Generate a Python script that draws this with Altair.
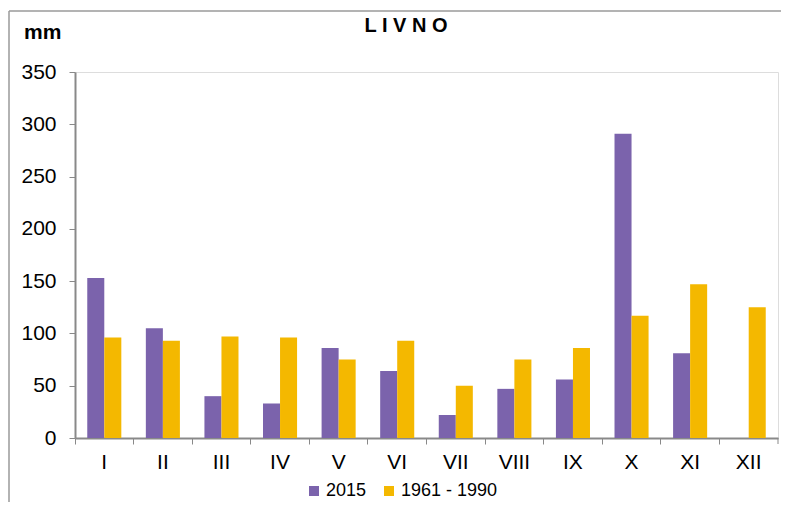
import altair as alt
import pandas as pd

months = ["I", "II", "III", "IV", "V", "VI", "VII", "VIII", "IX", "X", "XI", "XII"]
series_names = ["2015", "1961 - 1990"]
vals_2015 = [153, 105, 40, 33, 86, 64, 22, 47, 56, 291, 81, None]
vals_norm = [96, 93, 97, 96, 75, 93, 50, 75, 86, 117, 147, 125]
y_ticks = [0, 50, 100, 150, 200, 250, 300, 350]
title_text = "L I V N O"
unit_text = "mm"
colors = ["#7B63AC", "#F4B800"]

rows = []
for m, a, b in zip(months, vals_2015, vals_norm):
    rows.append({"month": m, "series": series_names[0], "value": a})
    rows.append({"month": m, "series": series_names[1], "value": b})
df = pd.DataFrame(rows)
df = df.dropna()

FONT = "Liberation Sans"
W, H = 703, 366

bars = alt.Chart(df).mark_bar().encode(
    x=alt.X("month:N", sort=months,
            scale=alt.Scale(paddingInner=0, paddingOuter=0),
            axis=alt.Axis(title=None, labelAngle=0, labelFontSize=21, labelFont=FONT,
                          labelColor="#000000", bandPosition=0, tickSize=6,
                          tickColor="#898989", domainColor="#898989", domainWidth=2,
                          labelPadding=7)),
    xOffset=alt.XOffset("series:N", sort=series_names,
                        scale=alt.Scale(paddingInner=0, paddingOuter=0.72)),
    y=alt.Y("value:Q", scale=alt.Scale(domain=[0, 350], nice=False),
            axis=alt.Axis(values=y_ticks, grid=False, title=None, labelFontSize=21,
                          labelFont=FONT, labelColor="#000000", tickSize=6,
                          tickColor="#898989", domainColor="#898989", domainWidth=2,
                          labelPadding=13)),
    color=alt.Color("series:N", sort=series_names,
                    scale=alt.Scale(domain=series_names, range=colors),
                    legend=alt.Legend(title=None, orient="none", legendX=230, legendY=410,
                                      direction="horizontal", symbolType="square",
                                      symbolSize=100, labelFontSize=18, labelFont=FONT,
                                      labelColor="#000000", labelOffset=3,
                                      columnPadding=13, symbolStrokeWidth=0)),
)

title_df = pd.DataFrame({"t": [title_text]})
title_mark = alt.Chart(title_df).mark_text(fontSize=20, fontWeight="bold", font=FONT,
                                           color="#000000", align="center",
                                           baseline="middle").encode(
    text="t:N", x=alt.value(331), y=alt.value(-46))

unit_df = pd.DataFrame({"t": [unit_text]})
unit_mark = alt.Chart(unit_df).mark_text(fontSize=21, fontWeight="bold", font=FONT,
                                         color="#000000", align="left",
                                         baseline="middle").encode(
    text="t:N", x=alt.value(-51), y=alt.value(-39))

frame_df = pd.DataFrame({"k": [0]})
top_line = alt.Chart(frame_df).mark_rule(color="#9a9a9a", strokeWidth=1.5).encode(
    x=alt.value(-66), x2=alt.value(706), y=alt.value(-61))
left_line = alt.Chart(frame_df).mark_rule(color="#9a9a9a", strokeWidth=1.5).encode(
    x=alt.value(-66), y=alt.value(-61), y2=alt.value(430))
end_tick = alt.Chart(frame_df).mark_rule(color="#898989", strokeWidth=1).encode(
    x=alt.value(W), y=alt.value(H), y2=alt.value(H + 6))

chart = alt.layer(bars, title_mark, unit_mark, top_line, left_line, end_tick).properties(
    width=W, height=H, padding={"left": 0, "top": 2, "right": 0, "bottom": 0}
).configure_view(stroke=None).configure(background="white")

chart.save("out.html", embed_options={"renderer": "svg", "actions": False})
